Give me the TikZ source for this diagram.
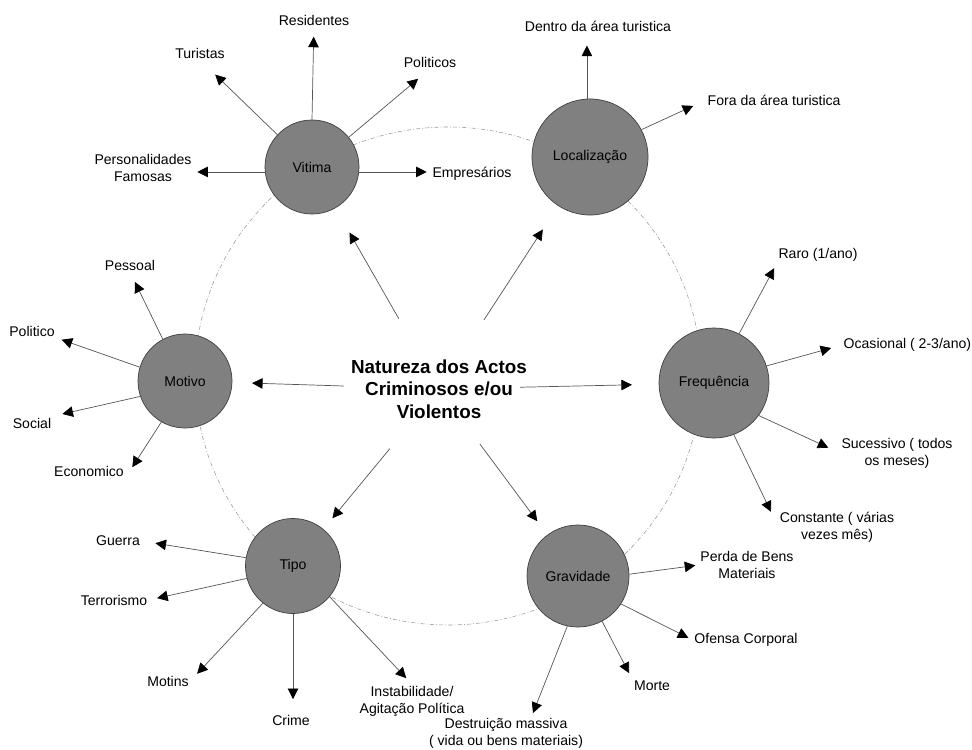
\documentclass[tikz,border=0pt]{standalone}
\usepackage{fontspec}
\setmainfont{Liberation Sans}
\usetikzlibrary{arrows.meta, shapes.geometric}
\definecolor{eixocinza}{RGB}{128,128,128}
\definecolor{linhacinza}{RGB}{85,85,85}
\tikzstyle{eixo} = [circle, draw=black!75, line width=0.5pt, fill=eixocinza, font=\fontsize{10}{12}\selectfont]
\tikzstyle{folha} = [align=center, inner sep=1pt, font=\fontsize{10}{12}\selectfont]
\tikzstyle{centro} = [align=center, inner sep=2pt, font=\fontsize{13.4}{16}\selectfont\bfseries]
\tikzstyle{seta} = [draw=linhacinza, line width=0.5pt, -{Triangle[length=7.5pt,width=7.5pt,color=black]}]
\tikzstyle{orbita} = [draw=gray!80, line width=0.4pt, dash pattern=on 3pt off 1.5pt on 0.6pt off 1.5pt]
\begin{document}
\begin{tikzpicture}[x=0.025cm, y=-0.025cm]
\useasboundingbox (0,0) rectangle (972,749);

\draw[orbita] (448,376) ellipse [x radius=253, y radius=249];

\node[centro] (nat) at (439,389) {Natureza dos Actos\\Criminosos e/ou\\Violentos};

\node[eixo, minimum size=2.35cm] (vit) at (312,167) {Vitima};
\node[eixo, minimum size=2.9cm] (loc) at (590,157) {Localização};
\node[eixo, minimum size=2.75cm] (frq) at (714,383) {Frequência};
\node[eixo, minimum size=2.35cm] (mot) at (185,381) {Motivo};
\node[eixo, minimum size=2.375cm] (tpo) at (293,566) {Tipo};
\node[eixo, minimum size=2.55cm] (grv) at (578,576) {Gravidade};

\node[folha] (res) at (314,20) {Residentes};
\node[folha] (tur) at (200,53) {Turistas};
\node[folha] (pol) at (430,62) {Politicos};
\node[folha] (fam) at (143,168) {Personalidades\\Famosas};
\node[folha] (emp) at (472,174) {Empresários};

\node[folha] (den) at (598,26) {Dentro da área turistica};
\node[folha, anchor=west] (fora) at (706,100) {Fora da área turistica};

\node[folha] (raro) at (818,255) {Raro (1/ano)};
\node[folha, anchor=west] (oca) at (842,345) {Ocasional ( 2-3/ano)};
\node[folha] (suc) at (897,453) {Sucessivo ( todos\\os meses)};
\node[folha] (cons) at (837,527) {Constante ( várias\\vezes mês)};

\node[folha] (pess) at (130,265) {Pessoal};
\node[folha] (polt) at (32,331) {Politico};
\node[folha] (soc) at (32,423) {Social};
\node[folha] (eco) at (89,471) {Economico};

\node[folha] (gue) at (118,541) {Guerra};
\node[folha] (ter) at (114,600) {Terrorismo};
\node[folha] (mtn) at (168,681) {Motins};
\node[folha] (cri) at (291,720) {Crime};
\node[folha] (ins) at (412,701) {Instabilidade/\\Agitação Política};

\node[folha] (per) at (747,565) {Perda de Bens\\Materiais};
\node[folha] (ofe) at (746,640) {Ofensa Corporal};
\node[folha] (mor) at (652,686) {Morte};
\node[folha] (des) at (506,733) {Destruição massiva\\( vida ou bens materiais)};

% centro
\draw[seta, shorten <=31pt, shorten >=20pt] (nat) -- (vit);
\draw[seta, shorten <=31pt, shorten >=20pt] (nat) -- (loc);
\draw[seta, shorten <=3pt, shorten >=14pt] (nat) -- (mot);
\draw[seta, shorten <=-7pt, shorten >=19pt] (nat) -- (frq);
\draw[seta, shorten <=25pt, shorten >=10pt] (nat) -- (tpo);
\draw[seta, shorten <=20pt, shorten >=12pt] (nat) -- (grv);

% vitima
\draw[seta, shorten >=7pt] (vit.90) -- (res);
\draw[seta, shorten >=15pt] (vit.137.6) -- (tur.south);
\draw[seta, shorten >=11pt] (vit.39) -- (pol.south);
\draw[seta, shorten >=3pt] (vit.-174) -- (vit.-174 -| fam.east);
\draw[seta, shorten >=3pt] (vit.-6) -- (vit.-6 -| emp.west);

% localizacao
\draw[seta, shorten >=9pt] (loc.93) -- (loc.93 |- den.south);
\draw[seta, shorten >=10pt] (loc.28.8) -- (fora.west);

% frequencia
\draw[seta, shorten >=4pt] (frq.63.4) -- (raro.south west);
\draw[seta, shorten >=8pt] (frq.18.8) -- (oca.west);
\draw[seta, shorten >=9pt] (frq.-36.5) -- (suc.west);
\draw[seta, shorten >=12pt] (frq.-69) -- (cons.west);

% motivo
\draw[seta, shorten >=8pt] (mot.118.7) -- (pess.south);
\draw[seta, shorten >=4pt] (mot.163.4) -- (polt.south east);
\draw[seta, shorten >=7pt] (mot.-161) -- (soc.north east);
\draw[seta, shorten >=9pt] (mot.-120.8) -- (eco.south east);

% tipo
\draw[seta, shorten >=10pt] (tpo.170) -- (gue.east);
\draw[seta, shorten >=6pt] (tpo.-165) -- (ter.east);
\draw[seta, shorten >=7pt] (tpo.-129) -- (mtn.east);
\draw[seta, shorten >=10pt] (tpo.-90) -- (tpo.-90 |- cri.north);
\draw[seta, shorten >=6pt] (tpo.-40) -- (ins.north);

% gravidade
\draw[seta, shorten >=2.5pt] (grv.2) -- (per.west);
\draw[seta, shorten >=3.5pt] (grv.-33.4) -- (ofe.west);
\draw[seta, shorten >=5pt] (grv.-62.4) -- (mor.north west);
\draw[seta, shorten >=2.5pt] (grv.-102.4) -- (des.33);

\end{tikzpicture}
\end{document}
